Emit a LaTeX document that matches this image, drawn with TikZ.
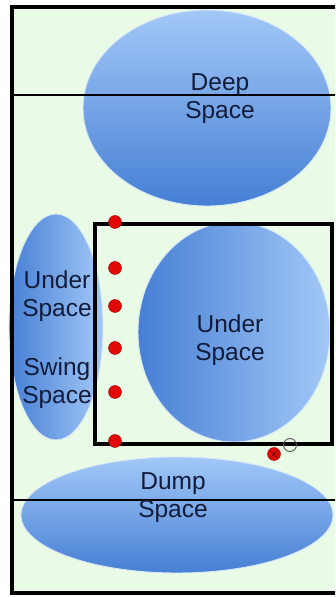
\documentclass[tikz,border=0pt]{standalone}
\usepackage{fontspec}
\setmainfont{Liberation Sans}

\definecolor{fieldgreen}{RGB}{233,250,230}
\definecolor{zonelight}{RGB}{162,200,247}
\definecolor{zonedark}{RGB}{70,127,212}
\definecolor{zoneedge}{RGB}{214,230,248}
\definecolor{zonetext}{RGB}{18,28,58}
\definecolor{playerred}{RGB}{226,8,8}

\tikzset{
  zone/.style={draw=zoneedge,line width=0.9pt},
  zonelabel/.style={text=zonetext,align=center,inner sep=0pt,font=\fontsize{24.5}{28}\selectfont},
  player/.style={fill=playerred,draw=red!60!black,line width=0.4pt},
}

\begin{document}
\begin{tikzpicture}[x=1pt,y=1pt]
\useasboundingbox (0,0) rectangle (335,597);
\clip (0,0) rectangle (335,597);
\coordinate (fsw) at (11.5,3.5);
\coordinate (fnw) at (11.5,589.5);
\coordinate (fne) at (342,589.5);
\coordinate (fse) at (342,3.5);
\coordinate (tl) at (11.5,502);
\coordinate (tr) at (342,502);
\coordinate (bl) at (11.5,97);
\coordinate (br) at (342,97);
\coordinate (bnw) at (95,373);
\coordinate (bse) at (332,153);
\coordinate (X) at (274,143);
\coordinate (O) at (290,152);

\fill[fieldgreen] (fsw) rectangle (fne);

\shadedraw[zone,top color=zonelight,bottom color=zonedark] (207,489) ellipse [x radius=124,y radius=98];
\shadedraw[zone,left color=zonedark,right color=zonelight] (56,270) ellipse [x radius=47,y radius=113];
\shadedraw[zone,left color=zonedark,right color=zonelight] (234,265) ellipse [x radius=96,y radius=110];
\shadedraw[zone,top color=zonelight,bottom color=zonedark] (177,82) ellipse [x radius=156,y radius=58];

\draw[line width=2.2pt] (tl) -- (tr);
\draw[line width=2.2pt] (bl) -- (br);
\draw[line width=3.2pt] (bnw) rectangle (bse);
\draw[line width=4pt] (fne) -- (fnw) -- (fsw) -- (fse);

\foreach \y [count=\i] in {375,329,291,249,205,156} {
  \coordinate (p\i) at (115,\y);
  \filldraw[player] (p\i) circle (6.5);
}
\filldraw[player] (X) circle (6.5);
\draw[red!45!black,line width=0.8pt] ([shift={(-3.5,-3.5)}]X) -- ([shift={(3.5,3.5)}]X)
  ([shift={(-3.5,3.5)}]X) -- ([shift={(3.5,-3.5)}]X);
\draw[gray!70!black,line width=0.9pt] (O) circle (6.5);

\node[zonelabel] (deep) at (220,498) {Deep\\Space};
\node[zonelabel] (underleft) at (57,301) {Under\\Space};
\node[zonelabel] (swing) at (57,213.5) {Swing\\Space};
\node[zonelabel] (underright) at (230,256.5) {Under\\Space};
\node[zonelabel] (dump) at (173,99.5) {Dump\\Space};
\end{tikzpicture}
\end{document}
